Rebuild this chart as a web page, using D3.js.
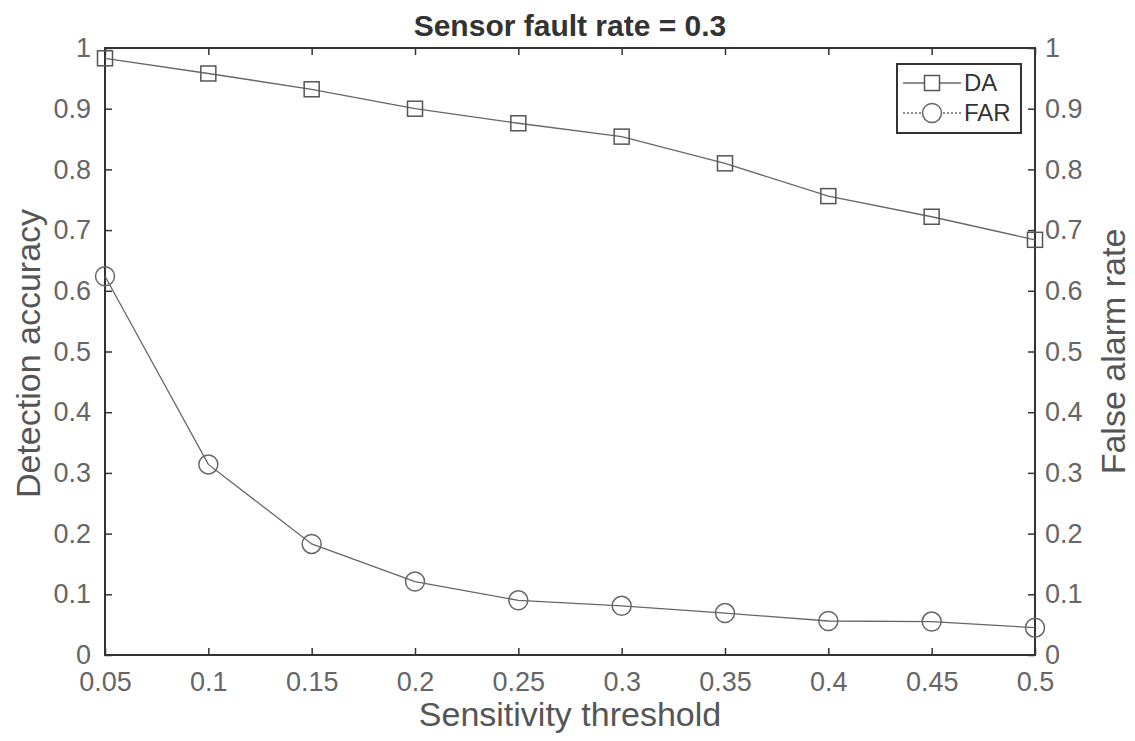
<!DOCTYPE html>
<html>
<head>
<meta charset="utf-8">
<script src="https://cdn.jsdelivr.net/npm/d3@7"></script>
<style>
  body { margin: 0; background: #fff; }
  svg { font-family: "Liberation Sans", Arial, sans-serif; }
</style>
</head>
<body>
<svg id="chart"></svg>
<script>
// data
const thresholds = [0.05, 0.1, 0.15, 0.2, 0.25, 0.3, 0.35, 0.4, 0.45, 0.5];
const daValues = [0.983, 0.958, 0.932, 0.9, 0.876, 0.854, 0.81, 0.756, 0.722, 0.684];
const farValues = [0.624, 0.314, 0.183, 0.121, 0.09, 0.081, 0.069, 0.056, 0.055, 0.045];
const xTicks = [0.05, 0.1, 0.15, 0.2, 0.25, 0.3, 0.35, 0.4, 0.45, 0.5];
const yTicks = [0, 0.1, 0.2, 0.3, 0.4, 0.5, 0.6, 0.7, 0.8, 0.9, 1];
const seriesNames = ["DA", "FAR"];

const W = 1135, H = 741;
const margin = { top: 48, right: 100, bottom: 86, left: 105 };
const width = W - margin.left - margin.right;
const height = H - margin.top - margin.bottom;

const svg = d3.select("#chart").attr("width", W).attr("height", H);
const g = svg.append("g").attr("transform", `translate(${margin.left},${margin.top})`);

const x = d3.scaleLinear().domain([0.05, 0.5]).range([0, width]);
const yLeft = d3.scaleLinear().domain([0, 1]).range([height, 0]);
const yRight = d3.scaleLinear().domain([0, 1]).range([height, 0]);

const fmt = d => d3.format("")(+d.toFixed(2));
const tickLen = 7;

// axes (ticks point inward, like matlab)
const axBottom = g.append("g").attr("transform", `translate(0,${height})`)
  .call(d3.axisBottom(x).tickValues(xTicks).tickFormat(fmt).tickSizeInner(-tickLen).tickSizeOuter(0).tickPadding(17));
const axTop = g.append("g")
  .call(d3.axisTop(x).tickValues(xTicks).tickFormat("").tickSizeInner(-tickLen).tickSizeOuter(0));
const axLeft = g.append("g")
  .call(d3.axisLeft(yLeft).tickValues(yTicks).tickFormat(fmt).tickSizeInner(-tickLen).tickSizeOuter(0).tickPadding(14));
const axRight = g.append("g").attr("transform", `translate(${width},0)`)
  .call(d3.axisRight(yRight).tickValues(yTicks).tickFormat(fmt).tickSizeInner(-tickLen).tickSizeOuter(0).tickPadding(10));

[axBottom, axTop, axLeft, axRight].forEach(a => {
  a.select(".domain").remove();
  a.selectAll(".tick line").attr("stroke", "#333").attr("stroke-width", 1.5);
  a.selectAll("text").attr("font-size", 27).attr("fill", "#666");
});

// box
g.append("rect").attr("width", width).attr("height", height)
  .attr("fill", "none").attr("stroke", "#333").attr("stroke-width", 2);

// lines
const rows = thresholds.map((t, i) => ({ t, da: daValues[i], far: farValues[i] }));

const daLine = d3.line().x(d => x(d.t)).y(d => yLeft(d.da));
const farLine = d3.line().x(d => x(d.t)).y(d => yRight(d.far));

g.append("path").datum(rows).attr("d", daLine)
  .attr("fill", "none").attr("stroke", "#666").attr("stroke-width", 1.3);
g.append("path").datum(rows).attr("d", farLine)
  .attr("fill", "none").attr("stroke", "#666").attr("stroke-width", 1.3);

const sq = 15, rc = 9.5;
g.selectAll(".da-mark").data(rows).enter().append("rect")
  .attr("class", "da-mark")
  .attr("x", d => x(d.t) - sq / 2).attr("y", d => yLeft(d.da) - sq / 2)
  .attr("width", sq).attr("height", sq)
  .attr("fill", "none").attr("stroke", "#555").attr("stroke-width", 1.5);
g.selectAll(".far-mark").data(rows).enter().append("circle")
  .attr("class", "far-mark")
  .attr("cx", d => x(d.t)).attr("cy", d => yRight(d.far)).attr("r", rc)
  .attr("fill", "none").attr("stroke", "#666").attr("stroke-width", 1.5);

// titles
svg.append("text").attr("x", margin.left + width / 2).attr("y", 36)
  .attr("text-anchor", "middle").attr("font-size", 30).attr("font-weight", "bold")
  .attr("fill", "#333").text("Sensor fault rate = 0.3");

svg.append("text").attr("x", margin.left + width / 2).attr("y", 726)
  .attr("text-anchor", "middle").attr("font-size", 34).attr("fill", "#555")
  .text("Sensitivity threshold");

svg.append("text").attr("transform", `translate(40,${margin.top + height / 2 + 2}) rotate(-90)`)
  .attr("text-anchor", "middle").attr("font-size", 34).attr("fill", "#555")
  .text("Detection accuracy");

svg.append("text").attr("transform", `translate(1125,${margin.top + height / 2}) rotate(-90)`)
  .attr("text-anchor", "middle").attr("font-size", 34).attr("fill", "#555")
  .text("False alarm rate");

// legend
const lg = svg.append("g").attr("transform", "translate(897,64)");
lg.append("rect").attr("width", 124).attr("height", 69)
  .attr("fill", "#fff").attr("stroke", "#333").attr("stroke-width", 2);
seriesNames.forEach((name, i) => {
  const cy = 19 + i * 30;
  lg.append("line").attr("x1", 6).attr("x2", 64).attr("y1", cy).attr("y2", cy)
    .attr("stroke", "#666").attr("stroke-width", 1.3)
    .attr("stroke-dasharray", i === 1 ? "2,2" : null);
  if (i === 0) {
    lg.append("rect").attr("x", 35 - sq / 2).attr("y", cy - sq / 2)
      .attr("width", sq).attr("height", sq)
      .attr("fill", "#fff").attr("stroke", "#555").attr("stroke-width", 1.5);
  } else {
    lg.append("circle").attr("cx", 35).attr("cy", cy).attr("r", rc)
      .attr("fill", "#fff").attr("stroke", "#666").attr("stroke-width", 1.5);
  }
  lg.append("text").attr("x", 67).attr("y", cy).attr("dy", "0.35em")
    .attr("font-size", 24).attr("fill", "#333").text(name);
});
</script>
</body>
</html>
